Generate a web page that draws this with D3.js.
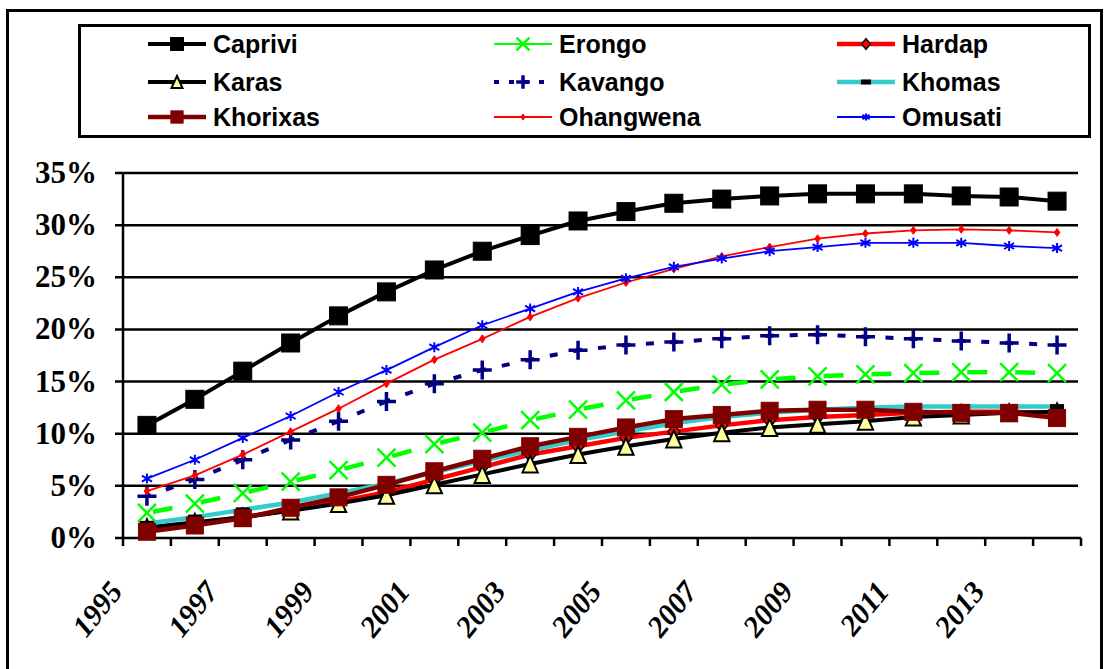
<!DOCTYPE html>
<html>
<head>
<meta charset="utf-8">
<script src="https://cdn.jsdelivr.net/npm/d3@7"></script>
<style>
  body { margin: 0; background: #fff; }
  svg { display: block; }
</style>
</head>
<body>
<svg id="chart" width="1106" height="669"></svg>
<script>
// Years on the category axis
const years = [1995, 1996, 1997, 1998, 1999, 2000, 2001, 2002, 2003, 2004,
               2005, 2006, 2007, 2008, 2009, 2010, 2011, 2012, 2013, 2014];
// Only every other year carries a label
const xTickLabels = ["1995", "1997", "1999", "2001", "2003", "2005", "2007", "2009", "2011", "2013"];
const yTicks = [0, 5, 10, 15, 20, 25, 30, 35];
const yTickLabels = ["0%", "5%", "10%", "15%", "20%", "25%", "30%", "35%"];

// Regional shares, in percent
const caprivi   = [10.8, 13.3, 16.0, 18.7, 21.3, 23.6, 25.7, 27.5, 29.0, 30.4, 31.3, 32.1, 32.5, 32.8, 33.0, 33.0, 33.0, 32.8, 32.7, 32.3];
const erongo    = [2.4, 3.3, 4.3, 5.4, 6.5, 7.7, 9.0, 10.1, 11.3, 12.3, 13.2, 14.0, 14.7, 15.2, 15.5, 15.7, 15.8, 15.9, 15.9, 15.8];
const hardap    = [0.9, 1.4, 2.0, 2.7, 3.5, 4.4, 5.6, 6.8, 8.0, 8.8, 9.6, 10.2, 10.8, 11.3, 11.6, 11.8, 12.0, 12.1, 12.1, 12.0];
const karas     = [1.0, 1.5, 2.0, 2.6, 3.3, 4.1, 5.1, 6.1, 7.1, 8.0, 8.8, 9.5, 10.1, 10.6, 10.9, 11.2, 11.6, 11.8, 12.0, 12.1];
const kavango   = [4.0, 5.6, 7.5, 9.4, 11.2, 13.1, 14.8, 16.1, 17.1, 18.0, 18.5, 18.8, 19.1, 19.4, 19.5, 19.3, 19.1, 18.9, 18.7, 18.5];
const khomas    = [1.4, 2.0, 2.7, 3.4, 4.3, 5.2, 6.3, 7.4, 8.4, 9.4, 10.2, 11.0, 11.6, 12.0, 12.3, 12.5, 12.6, 12.6, 12.6, 12.6];
const khorixas  = [0.6, 1.2, 1.9, 2.9, 3.9, 5.1, 6.4, 7.6, 8.8, 9.7, 10.6, 11.4, 11.8, 12.2, 12.3, 12.3, 12.1, 12.0, 12.0, 11.5];
const ohangwena = [4.5, 6.0, 8.0, 10.2, 12.4, 14.8, 17.1, 19.1, 21.2, 23.0, 24.5, 25.8, 27.0, 27.9, 28.7, 29.2, 29.5, 29.6, 29.5, 29.3];
const omusati   = [5.7, 7.5, 9.6, 11.7, 14.0, 16.1, 18.3, 20.4, 22.0, 23.6, 24.9, 26.0, 26.8, 27.5, 27.9, 28.3, 28.3, 28.3, 28.0, 27.8];

// Series styling (drawing order = list order)
const series = [
  { name: "Caprivi",   values: caprivi,   color: "#000000", width: 4,   marker: "square",   size: 18, fill: "#000000" },
  { name: "Erongo",    values: erongo,    color: "#00FF00", width: 4.5, dash: [20, 28], dashOff: -6, marker: "x", size: 18, legendWidth: 2 },
  { name: "Hardap",    values: hardap,    color: "#FF0000", width: 4.5, marker: "diamond",  size: 15, fill: "#FF0000" },
  { name: "Karas",     values: karas,     color: "#000000", width: 4,   marker: "triangle", size: 17, fill: "#FFFF99" },
  { name: "Kavango",   values: kavango,   color: "#000080", width: 4,   dash: [8, 16], dashOff: -20, marker: "plus", size: 19 },
  { name: "Khomas",    values: khomas,    color: "#33CCCC", width: 4.5, marker: "dash",     size: 14 },
  { name: "Khorixas",  values: khorixas,  color: "#800000", width: 4.5, marker: "square",   size: 17, fill: "#800000" },
  { name: "Ohangwena", values: ohangwena, color: "#FF0000", width: 1.8, marker: "smalldiamond", size: 8, fill: "#FF0000" },
  { name: "Omusati",   values: omusati,   color: "#0000FF", width: 1.8, marker: "asterisk", size: 10 }
];

const svg = d3.select("#chart");
const fontSerif = "'Liberation Serif', 'Times New Roman', serif";
const fontSans = "'Liberation Sans', Arial, sans-serif";

const x = d3.scaleBand().domain(years).range([123, 1081]);
const y = d3.scaleLinear().domain([0, 35]).range([538, 173]);
const cx = yr => x(yr) + x.bandwidth() / 2;

// Outer frame
svg.append("rect").attr("x", 7.5).attr("y", 10.5).attr("width", 1094).attr("height", 700)
  .attr("fill", "none").attr("stroke", "#000").attr("stroke-width", 3);

// Horizontal gridlines with left ticks
const grid = svg.append("g");
yTicks.forEach(v => {
  if (v === 0) return;
  grid.append("line").attr("x1", 115).attr("x2", 1078).attr("y1", y(v)).attr("y2", y(v))
    .attr("stroke", "#000").attr("stroke-width", 2.5);
});

// Axes
const axisG = svg.append("g");
axisG.append("line").attr("x1", 123).attr("x2", 123).attr("y1", y(35)).attr("y2", y(0))
  .attr("stroke", "#000").attr("stroke-width", 2.5);
axisG.append("line").attr("x1", 115).attr("x2", 1081).attr("y1", y(0)).attr("y2", y(0))
  .attr("stroke", "#000").attr("stroke-width", 2.5);
const boundaries = years.map(yr => x(yr)).concat([x.range()[1]]);
boundaries.forEach(bx => {
  axisG.append("line").attr("x1", bx).attr("x2", bx).attr("y1", y(0)).attr("y2", y(0) + 8)
    .attr("stroke", "#000").attr("stroke-width", 2.5);
});

// Y tick labels
yTicks.forEach((v, i) => {
  svg.append("text").attr("x", 97).attr("y", y(v) + 10)
    .attr("text-anchor", "end").attr("font-family", fontSerif).attr("font-weight", "bold")
    .attr("font-size", 31).text(yTickLabels[i]);
});

// X tick labels, rotated
xTickLabels.forEach(lbl => {
  const yr = +lbl;
  svg.append("text")
    .attr("transform", `translate(${x(yr) + 1},${592}) rotate(-51)`)
    .attr("text-anchor", "end").attr("font-family", fontSerif).attr("font-weight", "bold")
    .attr("font-style", "italic").attr("font-size", 30).text(lbl);
});

// Marker drawing helper
function drawMarker(g, type, px, py, s, color, fill) {
  const h = s / 2;
  switch (type) {
    case "square":
      g.append("rect").attr("x", px - h).attr("y", py - h).attr("width", s).attr("height", s)
        .attr("fill", fill).attr("stroke", color).attr("stroke-width", 1);
      break;
    case "diamond":
      g.append("path").attr("d", `M${px},${py - h}L${px + h * 0.8},${py}L${px},${py + h}L${px - h * 0.8},${py}Z`)
        .attr("fill", fill).attr("stroke", "#000").attr("stroke-width", 1.5);
      break;
    case "smalldiamond":
      g.append("path").attr("d", `M${px},${py - h}L${px + h * 0.7},${py}L${px},${py + h}L${px - h * 0.7},${py}Z`)
        .attr("fill", fill).attr("stroke", color).attr("stroke-width", 1);
      break;
    case "triangle":
      g.append("path").attr("d", `M${px},${py - h}L${px + h * 0.9},${py + h}L${px - h * 0.9},${py + h}Z`)
        .attr("fill", fill).attr("stroke", "#000").attr("stroke-width", 2).attr("stroke-linejoin", "miter");
      break;
    case "x":
      g.append("path").attr("d", `M${px - h},${py - h}L${px + h},${py + h}M${px + h},${py - h}L${px - h},${py + h}`)
        .attr("stroke", color).attr("stroke-width", 2.5).attr("fill", "none");
      break;
    case "plus":
      g.append("path").attr("d", `M${px - h},${py}L${px + h},${py}M${px},${py - h}L${px},${py + h}`)
        .attr("stroke", color).attr("stroke-width", 3.5).attr("fill", "none");
      break;
    case "dash":
      g.append("rect").attr("x", px - h).attr("y", py - 2.5).attr("width", s).attr("height", 5)
        .attr("fill", "#000");
      break;
    case "asterisk":
      g.append("path").attr("d",
        `M${px - h},${py - h * 0.6}L${px + h},${py + h * 0.6}M${px + h},${py - h * 0.6}L${px - h},${py + h * 0.6}M${px},${py - h}L${px},${py + h}`)
        .attr("stroke", color).attr("stroke-width", 2).attr("fill", "none");
      break;
  }
}

// Series lines and markers
const line = d3.line().x(d => cx(d.year)).y(d => y(d.v));
const plot = svg.append("g");
series.forEach(s => {
  const pts = years.map((yr, i) => ({ year: yr, v: s.values[i] }));
  const g = plot.append("g");
  if (s.dash) {
    // dashed styles restart their pattern at every data point
    d3.pairs(pts).forEach(pair => {
      g.append("path").attr("d", line(pair)).attr("fill", "none")
        .attr("stroke", s.color).attr("stroke-width", s.width)
        .attr("stroke-dasharray", s.dash.join(",")).attr("stroke-dashoffset", s.dashOff);
    });
  } else {
    g.append("path").attr("d", line(pts)).attr("fill", "none")
      .attr("stroke", s.color).attr("stroke-width", s.width).attr("stroke-linejoin", "round");
  }
  pts.forEach(p => drawMarker(g, s.marker, cx(p.year), y(p.v), s.size, s.color, s.fill));
});

// Legend
svg.append("rect").attr("x", 79.5).attr("y", 25.5).attr("width", 1010).attr("height", 111)
  .attr("fill", "#fff").attr("stroke", "#000").attr("stroke-width", 3);
const legCols = [148, 494, 837];
const legRows = [44, 82, 117];
series.forEach((s, i) => {
  const col = i % 3, row = Math.floor(i / 3);
  const lx = legCols[col], ly = legRows[row];
  const g = svg.append("g");
  const lw = s.legendWidth || s.width;
  const seg = g.append("line").attr("x1", lx).attr("x2", lx + 58).attr("y1", ly).attr("y2", ly)
    .attr("stroke", s.color).attr("stroke-width", s.dash && !s.legendWidth ? 4 : lw);
  if (s.dash && !s.legendWidth) seg.attr("stroke-dasharray", "5,10").attr("stroke-dashoffset", 0);
  const ms = Math.max(6, s.size * 0.72);
  drawMarker(g, s.marker, lx + 29, ly, ms, s.color, s.fill);
  g.append("text").attr("x", lx + 65).attr("y", ly + 9)
    .attr("font-family", fontSans).attr("font-weight", "bold").attr("font-size", 25)
    .attr("fill", "#000").text(s.name);
});
</script>
</body>
</html>
